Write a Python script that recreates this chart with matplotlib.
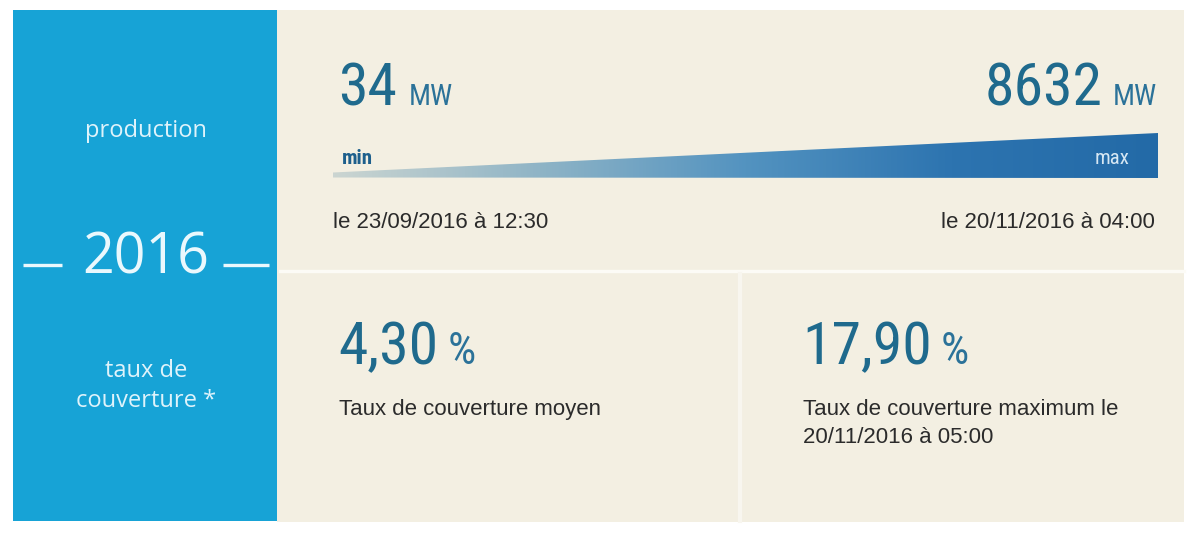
# production / taux de couverture card
import matplotlib
matplotlib.use("Agg")
import matplotlib.pyplot as plt
from matplotlib import font_manager
from matplotlib.font_manager import FontProperties
from matplotlib.colors import LinearSegmentedColormap
from matplotlib.patches import Rectangle, Polygon
import numpy as np

year = "2016"
left_labels = ["production", "taux de\ncouverture *"]
prod_values = [34, 8632]
prod_unit = "MW"
prod_dates = ["le 23/09/2016 à 12:30", "le 20/11/2016 à 04:00"]
cov_values = [4.30, 17.90]
cov_unit = "%"
cov_labels = ["Taux de couverture moyen",
              "Taux de couverture maximum le\n20/11/2016 à 05:00"]

fonts = font_manager.fontManager.ttflist
names = {f.name for f in fonts}
body = "Liberation Sans" if "Liberation Sans" in names else "DejaVu Sans"
soft = "Open Sans" if "Open Sans" in names else "DejaVu Sans"


def is_cond(f):
    s = str(f.stretch).lower()
    return ("condensed" in s or "narrow" in s or "Narrow" in f.name
            or "Condensed" in f.name or "condensed" in f.fname.lower()
            or "narrow" in f.fname.lower())


def pick_condensed(bold=False):
    order = ["Liberation Sans Narrow", "Roboto Condensed", "Noto Sans",
             "Open Sans", "DejaVu Sans", "Roboto", "Lato", "Inter"]
    cands = [f for f in fonts if is_cond(f) and f.style == "normal"]
    def score(f):
        w = f.weight if isinstance(f.weight, int) else (700 if "bold" in str(f.weight) else 400)
        target = 700 if bold else 400
        rank = next((i for i, n in enumerate(order) if f.name.startswith(n)), 99)
        return (abs(w - target), rank)
    cands.sort(key=score)
    if cands:
        return FontProperties(fname=cands[0].fname)
    return None


cond = pick_condensed()
cond_b = pick_condensed(bold=True)
if cond is None:
    cond = FontProperties(family=body)
if cond_b is None:
    cond_b = FontProperties(family=body, weight="bold")


def cp(size, bold=False):
    p = (cond_b if bold else cond).copy()
    p.set_size(size)
    return p


blue = "#17a3d6"
cream = "#f3efe2"
dark = "#1f6a8d"
unitc = "#2b7299"
txt = "#2b2b2b"
pale = "#dff3fb"

W, H = 1194, 534
fig = plt.figure(figsize=(W / 100, H / 100), dpi=100)
fig.patch.set_facecolor("white")
ax = fig.add_axes([0, 0, 1, 1])
ax.set_xlim(0, W)
ax.set_ylim(H, 0)
ax.axis("off")

# panels
ax.add_patch(Rectangle((277, 10), 907, 512, color=cream, lw=0))
ax.add_patch(Rectangle((13, 10), 264, 511, color=blue, lw=0))
ax.plot([280, 1184], [271, 271], color="#fcfbf6", lw=2.4)
ax.plot([740, 740], [274, 521], color="#f8f6ef", lw=3)

# left column
ax.text(146, 131, left_labels[0], ha="center", va="center", color=pale,
        fontsize=17, family=soft)
ax.text(146, 259, year, ha="center", va="center", color="#eaf8fd",
        fontsize=40, family=soft)
ax.plot([23, 62], [265, 265], color="#eaf8fd", lw=2.4, solid_capstyle="butt")
ax.plot([223, 269], [265, 265], color="#eaf8fd", lw=2.4, solid_capstyle="butt")
ax.text(146, 386, left_labels[1], ha="center", va="center", color=pale,
        fontsize=17, family=soft, linespacing=1.3)

fig.canvas.draw()
rend = fig.canvas.get_renderer()
inv = ax.transData.inverted()


def xspan(t):
    bb = t.get_window_extent(rend)
    (x0, _), (x1, _) = inv.transform([[bb.x0, bb.y0], [bb.x1, bb.y1]])
    return x0, x1


def fr(v):
    return f"{v:.2f}".replace(".", ",")


# production min / max
t = ax.text(338, 105, str(prod_values[0]), ha="left", va="baseline",
            color=dark, fontproperties=cp(43))
x0, x1 = xspan(t)
ax.text(x1 + 12, 105, prod_unit, ha="left", va="baseline", color=unitc,
        fontproperties=cp(21))

u = ax.text(1157, 105, prod_unit, ha="right", va="baseline", color=unitc,
            fontproperties=cp(21))
x0, x1 = xspan(u)
ax.text(x0 - 10, 105, str(prod_values[1]), ha="right", va="baseline",
        color=dark, fontproperties=cp(43))

# gradient wedge
cmap = LinearSegmentedColormap.from_list(
    "wedge", ["#cbd5d1", "#8fb4c6", "#5393c0", "#2d74b0", "#236aa7"])
grad = np.linspace(0, 1, 512).reshape(1, -1)
im = ax.imshow(grad, cmap=cmap, extent=[333, 1158, 178, 132], aspect="auto",
               interpolation="bilinear", zorder=2)
wedge = Polygon([[333, 177.5], [333, 172.5], [1158, 133], [1158, 178]],
                closed=True, facecolor="none", edgecolor="none",
                transform=ax.transData)
ax.add_patch(wedge)
im.set_clip_path(wedge)
ax.set_xlim(0, W)
ax.set_ylim(H, 0)

ax.text(342, 164, "min", ha="left", va="baseline", color="#1d5f8c",
        fontproperties=cp(15, bold=True), zorder=3)
ax.text(1130, 164, "max", ha="right", va="baseline", color="#d6e7f3",
        fontproperties=cp(15), zorder=3)

ax.text(333, 228, prod_dates[0], ha="left", va="baseline", color=txt,
        fontsize=16, family=body)
ax.text(1155, 228, prod_dates[1], ha="right", va="baseline", color=txt,
        fontsize=16, family=body)

# taux de couverture
for xl, v, lab in zip([338, 802], cov_values, cov_labels):
    t = ax.text(xl, 364, fr(v), ha="left", va="baseline", color=dark,
                fontproperties=cp(43))
    x0, x1 = xspan(t)
    ax.text(x1 + 9, 364, cov_unit, ha="left", va="baseline", color=unitc,
            fontproperties=cp(32))
    ax.text(xl + 1, 399, lab, ha="left", va="top", color=txt,
            fontsize=16, family=body, linespacing=1.45)

fig.savefig("out.png", dpi=100, facecolor="white")
